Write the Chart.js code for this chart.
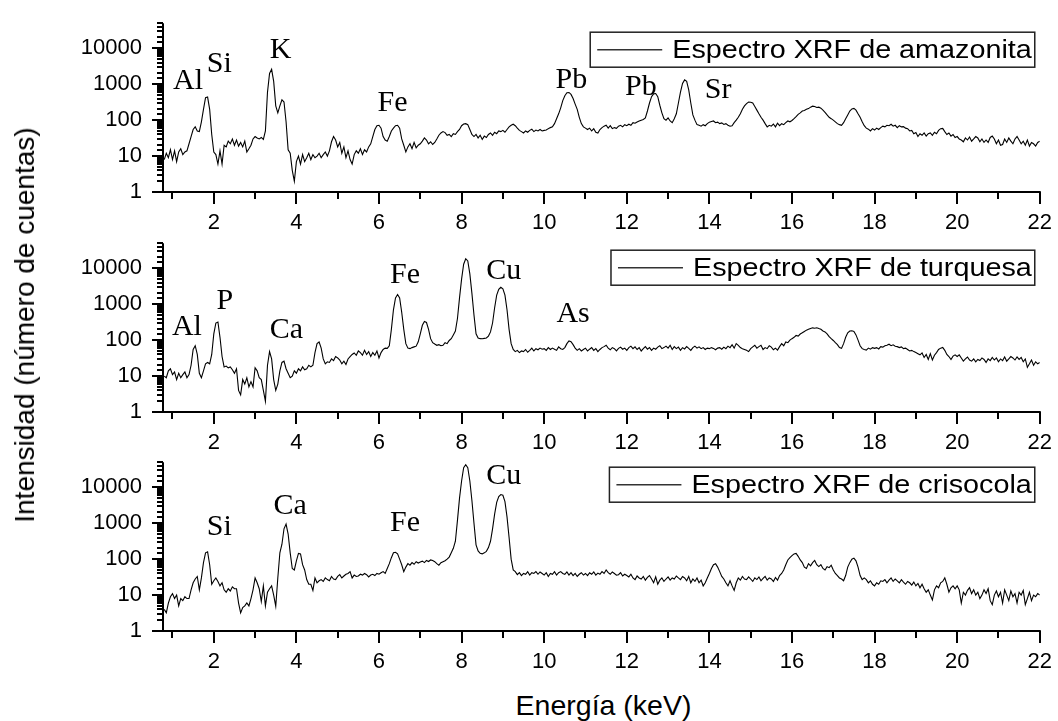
<!DOCTYPE html>
<html>
<head>
<meta charset="utf-8">
<script src="https://cdn.jsdelivr.net/npm/chart.js@4.4.1/dist/chart.umd.min.js"></script>
<style>
  html, body { margin: 0; padding: 0; background: #fff; }
  #wrap { position: relative; width: 1058px; height: 721px; overflow: hidden; font-family: "Liberation Sans", Arial, sans-serif; }
  canvas { position: absolute; left: 0; width: 1058px; height: 237px; }
  #ytitle { position: absolute; left: 25px; top: 324.5px; transform: translate(-50%, -50%) rotate(-90deg); white-space: nowrap; font-size: 28px; line-height: 28px; color: #000; }
  #xtitle { position: absolute; left: 603.5px; top: 705px; transform: translate(-50%, -50%); white-space: nowrap; font-size: 28.5px; line-height: 28.5px; color: #000; }
</style>
</head>
<body>
<div id="wrap">
  <canvas id="c1" width="1058" height="237" style="top:0px"></canvas>
  <canvas id="c2" width="1058" height="237" style="top:220px"></canvas>
  <canvas id="c3" width="1058" height="237" style="top:439px"></canvas>
  <div id="ytitle">Intensidad (número de cuentas)</div>
  <div id="xtitle">Energía (keV)</div>
</div>
<script>
// energy grid (keV), 0.05 keV steps
const energy = [
  0.80, 0.85, 0.90, 0.95,
  1.00, 1.05, 1.10, 1.15, 1.20, 1.25, 1.30, 1.35, 1.40, 1.45, 1.50, 1.55, 1.60, 1.65, 1.70, 1.75, 1.80, 1.85, 1.90, 1.95,
  2.00, 2.05, 2.10, 2.15, 2.20, 2.25, 2.30, 2.35, 2.40, 2.45, 2.50, 2.55, 2.60, 2.65, 2.70, 2.75, 2.80, 2.85, 2.90, 2.95,
  3.00, 3.05, 3.10, 3.15, 3.20, 3.25, 3.30, 3.35, 3.40, 3.45, 3.50, 3.55, 3.60, 3.65, 3.70, 3.75, 3.80, 3.85, 3.90, 3.95,
  4.00, 4.05, 4.10, 4.15, 4.20, 4.25, 4.30, 4.35, 4.40, 4.45, 4.50, 4.55, 4.60, 4.65, 4.70, 4.75, 4.80, 4.85, 4.90, 4.95,
  5.00, 5.05, 5.10, 5.15, 5.20, 5.25, 5.30, 5.35, 5.40, 5.45, 5.50, 5.55, 5.60, 5.65, 5.70, 5.75, 5.80, 5.85, 5.90, 5.95,
  6.00, 6.05, 6.10, 6.15, 6.20, 6.25, 6.30, 6.35, 6.40, 6.45, 6.50, 6.55, 6.60, 6.65, 6.70, 6.75, 6.80, 6.85, 6.90, 6.95,
  7.00, 7.05, 7.10, 7.15, 7.20, 7.25, 7.30, 7.35, 7.40, 7.45, 7.50, 7.55, 7.60, 7.65, 7.70, 7.75, 7.80, 7.85, 7.90, 7.95,
  8.00, 8.05, 8.10, 8.15, 8.20, 8.25, 8.30, 8.35, 8.40, 8.45, 8.50, 8.55, 8.60, 8.65, 8.70, 8.75, 8.80, 8.85, 8.90, 8.95,
  9.00, 9.05, 9.10, 9.15, 9.20, 9.25, 9.30, 9.35, 9.40, 9.45, 9.50, 9.55, 9.60, 9.65, 9.70, 9.75, 9.80, 9.85, 9.90, 9.95,
  10.00, 10.05, 10.10, 10.15, 10.20, 10.25, 10.30, 10.35, 10.40, 10.45, 10.50, 10.55, 10.60, 10.65, 10.70, 10.75, 10.80, 10.85, 10.90, 10.95,
  11.00, 11.05, 11.10, 11.15, 11.20, 11.25, 11.30, 11.35, 11.40, 11.45, 11.50, 11.55, 11.60, 11.65, 11.70, 11.75, 11.80, 11.85, 11.90, 11.95,
  12.00, 12.05, 12.10, 12.15, 12.20, 12.25, 12.30, 12.35, 12.40, 12.45, 12.50, 12.55, 12.60, 12.65, 12.70, 12.75, 12.80, 12.85, 12.90, 12.95,
  13.00, 13.05, 13.10, 13.15, 13.20, 13.25, 13.30, 13.35, 13.40, 13.45, 13.50, 13.55, 13.60, 13.65, 13.70, 13.75, 13.80, 13.85, 13.90, 13.95,
  14.00, 14.05, 14.10, 14.15, 14.20, 14.25, 14.30, 14.35, 14.40, 14.45, 14.50, 14.55, 14.60, 14.65, 14.70, 14.75, 14.80, 14.85, 14.90, 14.95,
  15.00, 15.05, 15.10, 15.15, 15.20, 15.25, 15.30, 15.35, 15.40, 15.45, 15.50, 15.55, 15.60, 15.65, 15.70, 15.75, 15.80, 15.85, 15.90, 15.95,
  16.00, 16.05, 16.10, 16.15, 16.20, 16.25, 16.30, 16.35, 16.40, 16.45, 16.50, 16.55, 16.60, 16.65, 16.70, 16.75, 16.80, 16.85, 16.90, 16.95,
  17.00, 17.05, 17.10, 17.15, 17.20, 17.25, 17.30, 17.35, 17.40, 17.45, 17.50, 17.55, 17.60, 17.65, 17.70, 17.75, 17.80, 17.85, 17.90, 17.95,
  18.00, 18.05, 18.10, 18.15, 18.20, 18.25, 18.30, 18.35, 18.40, 18.45, 18.50, 18.55, 18.60, 18.65, 18.70, 18.75, 18.80, 18.85, 18.90, 18.95,
  19.00, 19.05, 19.10, 19.15, 19.20, 19.25, 19.30, 19.35, 19.40, 19.45, 19.50, 19.55, 19.60, 19.65, 19.70, 19.75, 19.80, 19.85, 19.90, 19.95,
  20.00, 20.05, 20.10, 20.15, 20.20, 20.25, 20.30, 20.35, 20.40, 20.45, 20.50, 20.55, 20.60, 20.65, 20.70, 20.75, 20.80, 20.85, 20.90, 20.95,
  21.00, 21.05, 21.10, 21.15, 21.20, 21.25, 21.30, 21.35, 21.40, 21.45, 21.50, 21.55, 21.60, 21.65, 21.70, 21.75, 21.80, 21.85, 21.90, 21.95,
  22.00
];

// counts, one row per keV
const amazonita = [
  8, 12, 9, 15,
  8, 14, 7, 13, 16, 11, 13, 14, 22, 35, 55, 65, 50, 48, 90, 200, 420, 440, 200, 40,
  13, 11, 6, 14, 6, 20, 18, 26, 22, 30, 20, 28, 19, 24, 18, 26, 13, 16, 20, 30,
  35, 32, 30, 33, 29, 50, 600, 2000, 2600, 1200, 250, 160, 250, 370, 320, 90, 15, 12, 4, 2,
  7, 10, 6, 11, 7, 9, 12, 8, 11, 9, 10, 12, 9, 11, 13, 10, 14, 25, 35, 28,
  18, 24, 12, 18, 9, 14, 8, 6, 11, 14, 12, 16, 11, 15, 13, 18, 22, 35, 55, 70,
  72, 60, 35, 28, 26, 35, 50, 60, 70, 72, 60, 30, 20, 13, 18, 22, 16, 24, 17, 20,
  22, 26, 32, 28, 22, 25, 21, 24, 30, 38, 44, 48, 45, 38, 40, 35, 42, 40, 48, 55,
  70, 78, 80, 75, 55, 40, 35, 40, 32, 38, 29, 36, 33, 40, 44, 38, 46, 42, 50, 48,
  52, 46, 55, 65, 72, 77, 70, 60, 52, 48, 44, 50, 46, 52, 56, 48, 53, 50, 55, 50,
  52, 53, 58, 62, 65, 80, 110, 150, 220, 350, 480, 580, 590, 520, 400, 280, 200, 120, 80, 65,
  60, 55, 60, 50, 58, 46, 44, 55, 62, 68, 72, 60, 70, 58, 62, 59, 68, 72, 65, 75,
  70, 77, 72, 85, 82, 89, 95, 100, 105, 115, 180, 300, 450, 540, 550, 450, 260, 160, 110, 100,
  115, 95, 85, 110, 150, 300, 600, 1050, 1320, 1200, 700, 300, 140, 100, 75, 72, 68, 75, 70, 80,
  88, 92, 95, 85, 88, 80, 84, 76, 80, 72, 68, 70, 85, 100, 120, 150, 200, 250, 290, 320,
  315, 300, 240, 190, 150, 120, 100, 80, 65, 72, 68, 78, 65, 82, 70, 80, 75, 85, 95, 90,
  98, 110, 125, 145, 160, 180, 185, 200, 210, 230, 245, 240, 225, 230, 215, 190, 165, 140, 120, 110,
  100, 90, 80, 75, 72, 85, 110, 140, 180, 205, 212, 190, 150, 120, 90, 70, 60, 56, 50, 58,
  53, 60, 55, 62, 68, 65, 72, 70, 77, 68, 72, 62, 70, 65, 66, 60, 58, 50, 52, 42,
  45, 35, 42, 38, 44, 36, 42, 44, 38, 46, 42, 52, 58, 59, 48, 40, 44, 36, 40, 33,
  35, 30, 28, 25, 32, 28, 34, 26, 30, 35, 32, 25, 30, 24, 28, 24, 33, 36, 30, 22,
  28, 20, 21, 30, 24, 32, 26, 22, 30, 35, 28, 22, 26, 20, 28, 19, 24, 22, 19, 24,
  26
];

const turquesa = [
  10, 9, 14, 16,
  11, 13, 8, 12, 9, 11, 13, 9, 11, 20, 55, 70, 40, 12, 9, 14, 22, 24, 22, 40,
  150, 300, 320, 120, 35, 18, 19, 17, 18, 15, 12, 16, 4, 3, 8, 6, 9, 5, 7, 5,
  17, 14, 9, 8, 4, 2, 20, 48, 30, 8, 4, 6, 14, 24, 26, 16, 12, 9, 10, 14,
  12, 16, 14, 18, 15, 16, 20, 18, 20, 45, 80, 89, 60, 30, 22, 25, 24, 30, 27, 35,
  32, 28, 22, 26, 21, 30, 35, 40, 44, 38, 50, 45, 38, 52, 40, 48, 35, 45, 38, 50,
  32, 45, 55, 60, 59, 70, 200, 700, 1500, 1870, 1500, 600, 200, 80, 60, 58, 62, 65, 68, 90,
  150, 260, 330, 310, 200, 110, 85, 78, 72, 75, 70, 72, 85, 80, 98, 110, 140, 180, 400, 1500,
  5000, 13000, 18500, 16000, 7000, 2000, 500, 150, 115, 110, 109, 112, 115, 130, 170, 300, 800, 1800, 2600, 2960,
  2700, 1800, 700, 200, 80, 55, 48, 52, 45, 50, 48, 55, 46, 52, 60, 50, 58, 54, 60, 56,
  58, 52, 62, 55, 60, 56, 52, 65, 58, 55, 62, 80, 95, 90, 75, 60, 52, 58, 50, 55,
  60, 50, 56, 62, 52, 58, 48, 55, 62, 66, 72, 60, 54, 62, 58, 50, 59, 64, 56, 60,
  52, 62, 68, 58, 65, 55, 62, 50, 58, 66, 56, 62, 52, 60, 56, 64, 70, 58, 62, 68,
  60, 72, 55, 66, 58, 64, 52, 62, 57, 66, 59, 52, 62, 68, 60, 65, 58, 62, 55, 60,
  58, 62, 59, 54, 60, 62, 56, 64, 58, 68, 62, 75, 60, 80, 72, 62, 58, 55, 52, 48,
  58, 65, 72, 60, 66, 72, 55, 62, 58, 70, 64, 54, 60, 53, 66, 80, 70, 89, 85, 100,
  110, 120, 135, 130, 148, 160, 175, 190, 200, 210, 220, 215, 222, 210, 200, 180, 170, 150, 125, 110,
  98, 85, 75, 62, 59, 80, 120, 160, 180, 182, 175, 140, 100, 70, 58, 55, 53, 60, 56, 62,
  59, 62, 57, 66, 64, 70, 72, 77, 70, 74, 68, 66, 62, 65, 58, 60, 55, 50, 52, 48,
  45, 42, 39, 44, 33, 40, 29, 42, 28, 38, 45, 55, 60, 63, 52, 40, 35, 29, 36, 39,
  35, 39, 32, 26, 30, 34, 28, 26, 30, 25, 29, 27, 32, 29, 24, 30, 27, 33, 28, 32,
  25, 30, 27, 34, 26, 30, 35, 32, 28, 34, 29, 33, 25, 30, 17.5, 22, 28, 20, 25, 22,
  24
];

const crisocola = [
  4, 3.2, 6, 9,
  11, 8, 10, 5, 8, 7, 9, 8, 8, 14, 22, 28, 33, 14, 30, 80, 150, 160, 70, 20,
  25, 30, 24, 18, 22, 14, 12, 15, 13, 17, 15, 15, 6, 3.2, 4.5, 5, 6, 5, 8, 14,
  30, 22, 15, 6.6, 18, 5, 12, 15, 18, 10, 4.9, 30, 150, 260, 700, 950, 500, 150, 55, 50,
  90, 145, 140, 70, 50, 27, 20, 20, 13.5, 30, 22, 25, 27, 24, 30, 27, 25, 33, 28, 27,
  33, 37, 30, 34, 38, 40, 45, 30, 36, 33, 34, 38, 36, 40, 37, 32, 36, 38, 35, 40,
  38, 42, 45, 40, 55, 75, 110, 150, 155, 140, 100, 70, 45, 60, 75, 68, 80, 72, 85, 78,
  83, 88, 80, 92, 86, 95, 92, 85, 75, 68, 80, 85, 90, 100, 114, 150, 200, 315, 1200, 5000,
  15000, 35000, 42600, 35000, 15000, 4300, 1000, 250, 170, 145, 140, 150, 165, 210, 315, 700, 1800, 3800, 5500, 6300,
  6000, 4000, 1500, 400, 100, 50, 45, 37, 42, 35, 40, 38, 45, 36, 42, 40, 45, 38, 44, 40,
  36, 42, 33, 40, 38, 45, 36, 42, 45, 40, 38, 44, 36, 42, 35, 40, 33, 38, 42, 36,
  40, 35, 42, 38, 44, 36, 41, 38, 45, 40, 50, 42, 38, 44, 40, 36, 37, 42, 34, 38,
  35, 32, 38, 30, 27, 34, 30, 28, 33, 26, 31, 35, 28, 22, 32, 20, 26, 30, 24, 28,
  32, 26, 30, 28, 34, 30, 27, 33, 30, 25, 33, 22, 28, 24, 30, 22, 26, 18, 22, 30,
  40, 55, 70, 75, 60, 45, 33, 28, 22, 18, 25, 18, 13.5, 22, 30, 26, 33, 28, 27, 32,
  28, 24, 30, 27, 32, 25, 29, 33, 26, 30, 28, 24, 31, 26, 35, 40, 50, 70, 95, 110,
  125, 140, 145, 120, 95, 80, 60, 55, 75, 65, 80, 92, 70, 62, 70, 55, 50, 62, 58, 68,
  50, 40, 35, 30, 28, 25, 35, 60, 80, 100, 107, 90, 60, 35, 27, 30, 27, 22, 25, 20,
  18, 22, 20, 25, 24, 27, 22, 26, 30, 24, 28, 25, 22, 27, 23, 20, 24, 22, 19, 23,
  18, 21, 16, 20, 15, 12, 14, 10, 7.3, 14, 18, 16, 22, 24, 30, 20, 12, 16, 18, 15,
  18, 14, 6, 12, 10, 13.5, 16, 11, 14, 10, 12, 8, 10, 14, 11, 15, 7, 5.4, 10, 13,
  9, 12, 6, 14, 10, 7, 13, 9, 11, 6, 12, 10, 13.5, 5.4, 8, 12, 7, 10, 9, 11,
  10
];

// element annotations: name, energy (keV), counts where the label sits
const amazPeakNames = ['Al', 'Si', 'K', 'Fe', 'Pb', 'Pb', 'Sr'];
const amazPeakE     = [1.375, 2.135, 3.62, 6.33, 10.66, 12.34, 14.21];
const amazPeakY     = [1230, 3660, 9100, 294, 1340, 825, 665];

const turqPeakNames = ['Al', 'P', 'Ca', 'Fe', 'Cu', 'As'];
const turqPeakE     = [1.35, 2.27, 3.76, 6.63, 9.02, 10.70];
const turqPeakY     = [230, 1200, 186, 6500, 8300, 525];

const crisPeakNames = ['Si', 'Ca', 'Fe', 'Cu'];
const crisPeakE     = [2.135, 3.85, 6.63, 9.02];
const crisPeakY     = [780, 3000, 1000, 20700];

const yTickLabels = [1, 10, 100, 1000, 10000];

Chart.defaults.font.family = '"Liberation Sans", Arial, sans-serif';
Chart.defaults.font.size = 22;
Chart.defaults.color = '#000';

// axis lines, tick marks, legend box and element names
const panelFrame = {
  id: 'panelFrame',
  afterDraw(chart, args, opts) {
    const ctx = chart.ctx;
    const { left, right, top, bottom } = chart.chartArea;
    const xs = chart.scales.x, ys = chart.scales.y;
    ctx.save();
    ctx.strokeStyle = '#000';
    ctx.lineWidth = 2;
    ctx.beginPath();
    ctx.moveTo(left, top);
    ctx.lineTo(left, bottom);
    ctx.lineTo(right + 1, bottom);
    xs.ticks.forEach(t => {
      const px = Math.round(xs.getPixelForValue(t.value));
      const len = t.value % 2 === 0 ? 12 : 7;
      ctx.moveTo(px, bottom);
      ctx.lineTo(px, bottom + len);
    });
    ys.ticks.forEach(t => {
      const py = Math.round(ys.getPixelForValue(t.value));
      const e = Math.round(Math.log10(t.value));
      const major = Math.abs(t.value - Math.pow(10, e)) < 1e-6;
      ctx.moveTo(left, py);
      ctx.lineTo(left - (major ? 11 : 6), py);
    });
    ctx.stroke();

    // legend
    const label = chart.data.datasets[0].label;
    const sx = 1.15;
    ctx.font = '25px "Liberation Sans", Arial, sans-serif';
    const tw = ctx.measureText(label).width * sx;
    const bh = 35;
    const bx1 = right - 5;
    const bx0 = bx1 - (7 + 65 + 10 + tw + 3);
    const by0 = top + opts.boxTop;
    ctx.lineWidth = 1.5;
    ctx.strokeStyle = '#222';
    ctx.strokeRect(bx0, by0, bx1 - bx0, bh);
    ctx.beginPath();
    ctx.strokeStyle = '#333';
    ctx.moveTo(bx0 + 7, by0 + bh / 2);
    ctx.lineTo(bx0 + 72, by0 + bh / 2);
    ctx.stroke();
    ctx.fillStyle = '#000';
    ctx.textAlign = 'left';
    ctx.textBaseline = 'middle';
    ctx.save();
    ctx.translate(bx0 + 82, by0 + bh / 2 + 1);
    ctx.scale(sx, 1);
    ctx.fillText(label, 0, 0);
    ctx.restore();

    // element names
    ctx.font = '30px "Liberation Serif", "Times New Roman", serif';
    ctx.textAlign = 'center';
    ctx.textBaseline = 'middle';
    opts.names.forEach((n, i) => {
      ctx.fillText(n, xs.getPixelForValue(opts.peakE[i]), ys.getPixelForValue(opts.peakY[i]));
    });
    ctx.restore();
  }
};

function makePanel(id, label, counts, names, peakE, peakY, boxTop) {
  return new Chart(document.getElementById(id), {
    type: 'line',
    data: {
      labels: energy,
      datasets: [{
        label: label,
        data: counts,
        borderColor: '#000',
        borderWidth: 1.1,
        pointRadius: 0,
        tension: 0,
        fill: false
      }]
    },
    options: {
      responsive: false,
      animation: false,
      devicePixelRatio: 1,
      layout: { padding: { left: 0, right: 15, top: 14, bottom: 0 } },
      plugins: {
        legend: { display: false },
        tooltip: { enabled: false },
        panelFrame: { names, peakE, peakY, boxTop }
      },
      scales: {
        x: {
          type: 'linear', min: 0.77, max: 22,
          grid: { display: true, drawOnChartArea: false, drawTicks: true, tickLength: 12, color: 'rgba(0,0,0,0)' },
          border: { display: false },
          ticks: {
            stepSize: 1, includeBounds: false, autoSkip: false, maxRotation: 0, minRotation: 0, padding: 6,
            callback: v => (v % 2 === 0 ? String(v) : '')
          },
          afterFit: s => { s.height = 45; }
        },
        y: {
          type: 'logarithmic', min: 1, max: 50000,
          grid: { display: true, drawOnChartArea: false, drawTicks: true, tickLength: 11, color: 'rgba(0,0,0,0)' },
          border: { display: false },
          ticks: {
            autoSkip: false, padding: 10,
            callback: v => (yTickLabels.includes(v) ? String(v) : '')
          },
          afterFit: s => { s.width = 163; }
        }
      }
    },
    plugins: [panelFrame]
  });
}

makePanel('c1', 'Espectro XRF de amazonita', amazonita, amazPeakNames, amazPeakE, amazPeakY, 9);
makePanel('c2', 'Espectro XRF de turquesa', turquesa, turqPeakNames, turqPeakE, turqPeakY, 7);
makePanel('c3', 'Espectro XRF de crisocola', crisocola, crisPeakNames, crisPeakE, crisPeakY, 5);
</script>
</body>
</html>
